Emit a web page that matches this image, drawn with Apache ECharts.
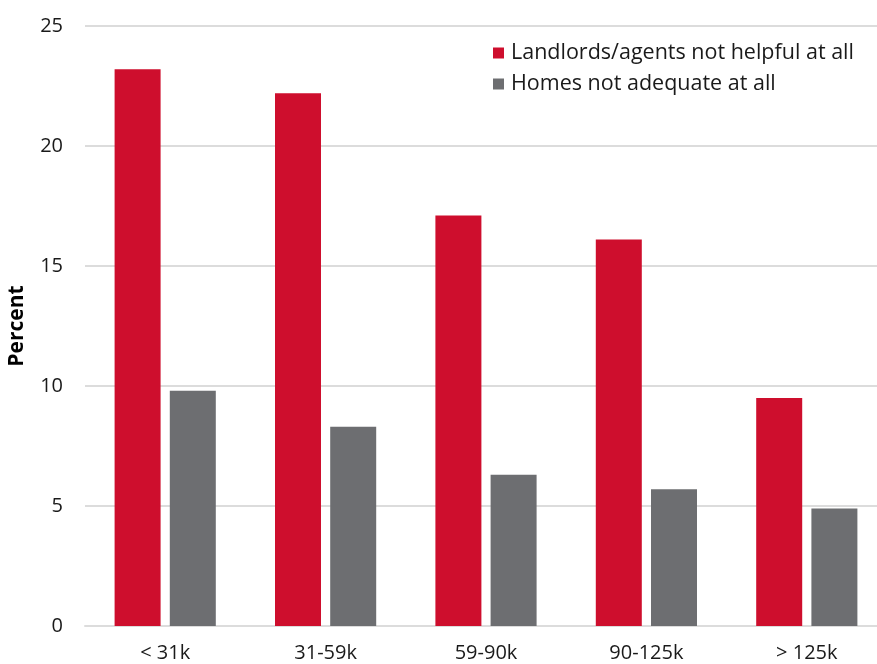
<!DOCTYPE html>
<html>
<head>
<meta charset="utf-8">
<script src="https://cdn.jsdelivr.net/npm/echarts@6/dist/echarts.min.js"></script>
<style>
  html, body { margin: 0; padding: 0; background: #fff; }
  #chart { width: 877px; height: 664px; }
</style>
</head>
<body>
<div id="chart"></div>
<script>
const incomeGroups = ['< 31k', '31-59k', '59-90k', '90-125k', '> 125k'];
const notHelpful = [23.2, 22.2, 17.1, 16.1, 9.5];
const notAdequate = [9.8, 8.3, 6.3, 5.7, 4.9];

const chart = echarts.init(document.getElementById('chart'));
const font = '"Open Sans", sans-serif';

chart.setOption({
  animation: false,
  textStyle: { fontFamily: font },
  legend: {
    orient: 'vertical',
    left: 488,
    top: 37,
    itemWidth: 11,
    itemHeight: 11,
    itemGap: 9,
    icon: 'rect',
    textStyle: { fontSize: 21.5, color: '#1a1a1a', fontFamily: font, padding: [0, 0, 0, 2] },
    data: ['Landlords/agents not helpful at all', 'Homes not adequate at all']
  },
  grid: {
    left: 85,
    right: -10,
    top: 26,
    bottom: 38,
    outerBoundsMode: 'none'
  },
  xAxis: {
    type: 'category',
    data: incomeGroups,
    axisTick: { show: false },
    axisLine: { lineStyle: { color: '#dcdcdc', width: 2 } },
    axisLabel: { fontSize: 20, color: '#1a1a1a', margin: 17 }
  },
  yAxis: {
    type: 'value',
    min: 0,
    max: 25,
    interval: 5,
    name: 'Percent',
    nameLocation: 'middle',
    nameGap: 57,
    nameTextStyle: { fontSize: 21, fontWeight: 'bold', color: '#000' },
    axisLabel: { fontSize: 20, color: '#1a1a1a', margin: 22 },
    splitLine: { lineStyle: { color: '#dcdcdc', width: 2 } }
  },
  series: [
    {
      name: 'Landlords/agents not helpful at all',
      type: 'bar',
      data: notHelpful,
      barWidth: 46,
      barGap: '20%',
      itemStyle: { color: '#ce0e2d' }
    },
    {
      name: 'Homes not adequate at all',
      type: 'bar',
      data: notAdequate,
      barWidth: 46,
      itemStyle: { color: '#6d6e71' }
    }
  ]
});
</script>
</body>
</html>
